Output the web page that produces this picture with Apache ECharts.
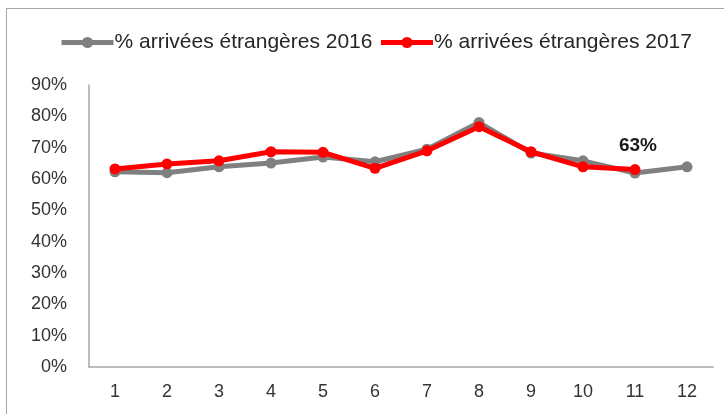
<!DOCTYPE html>
<html><head><meta charset="utf-8">
<script src="https://cdn.jsdelivr.net/npm/echarts@6/dist/echarts.min.js"></script>
<style>
html,body{margin:0;padding:0;background:#fff;}
#frame{position:absolute;left:6px;top:8px;width:730px;height:420px;border-left:1px solid #a6a6a6;border-top:1px solid #a6a6a6;}
#c{position:absolute;left:0;top:0;width:724px;height:414px;}
</style></head>
<body>
<div id="frame"></div>
<div id="c"></div>
<script>
const months = ['1','2','3','4','5','6','7','8','9','10','11','12'];
const seriesNames = ['% arrivées étrangères 2016', '% arrivées étrangères 2017'];
const values2016 = [62.3, 62.0, 63.9, 65.1, 67.0, 65.5, 69.5, 78.0, 68.3, 65.8, 61.9, 63.9];
const values2017 = [63.2, 64.8, 65.8, 68.7, 68.5, 63.4, 69.0, 76.7, 68.7, 63.9, 63.0];
const labelledIndex = 10;
const labelText = '63%';

const chart = echarts.init(document.getElementById('c'), null, {renderer:'canvas'});
const font = 'Liberation Sans, Arial, sans-serif';
chart.setOption({
  animation:false,
  backgroundColor:'transparent',
  legend:{
    top:27, left:54,
    itemWidth:52, itemHeight:14, itemGap:6,
    lineStyle:{width:5},
    textStyle:{fontFamily:font, fontSize:21, color:'#262626', padding:[0,0,0,-4]},
    data:seriesNames
  },
  grid:{left:89, right:11, top:85, bottom:47, containLabel:false},
  xAxis:{
    type:'category', data:months, boundaryGap:true,
    axisLine:{lineStyle:{color:'#a6a6a6', width:1.5}},
    axisTick:{show:false},
    axisLabel:{fontFamily:font, fontSize:18, color:'#333', margin:16}
  },
  yAxis:{
    type:'value', min:0, max:90, interval:10,
    axisLine:{show:true, lineStyle:{color:'#a6a6a6', width:1.5}},
    axisTick:{show:false},
    splitLine:{show:false},
    axisLabel:{fontFamily:font, fontSize:18, color:'#333', margin:22, formatter:'{value}%'}
  },
  series:[
    {name:seriesNames[0], type:'line', data:values2016, symbol:'circle', symbolSize:11,
     lineStyle:{color:'#808080', width:5}, itemStyle:{color:'#808080'}, z:2},
    {name:seriesNames[1], type:'line', data:values2017.map((v,i)=> i===labelledIndex ? {value:v, label:{show:true, formatter:labelText, position:'top', distance:9, offset:[3,0], fontFamily:font, fontSize:19, fontWeight:'bold', color:'#1a1a1a'}} : v),
     symbol:'circle', symbolSize:11,
     lineStyle:{color:'#ff0000', width:5}, itemStyle:{color:'#ff0000'}, z:3}
  ]
});
</script>
</body></html>
